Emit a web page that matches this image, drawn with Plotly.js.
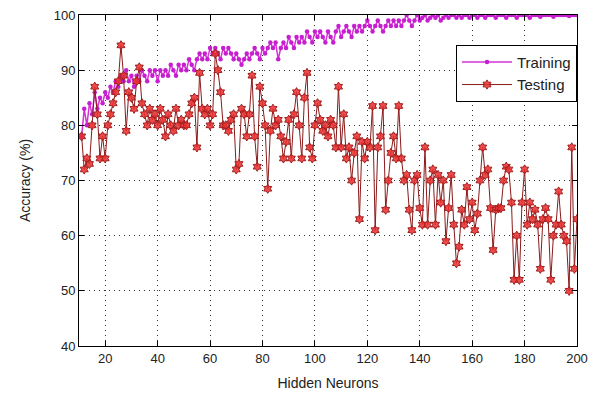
<!DOCTYPE html>
<html>
<head>
<meta charset="utf-8">
<script src="https://cdn.plot.ly/plotly-3.0.1.min.js"></script>
<style>html,body{margin:0;padding:0;background:#fff;}#chart{width:603px;height:401px;}</style>
</head>
<body>
<div id="chart"></div>
<script>
// Hidden neurons 11..200
const neurons = [];
for (let n = 11; n <= 200; n++) neurons.push(n);

const training = [
  78, 83, 80, 84, 82, 86, 83, 85, 84, 86,
  85, 87, 86, 88, 87, 89, 88, 90, 88, 89,
  87, 89, 88, 90, 89, 88, 90, 89, 90, 88,
  90, 89, 90, 89, 91, 90, 89, 91, 90, 91,
  90, 92, 91, 90, 92, 93, 92, 93, 92, 94,
  93, 94, 93, 92, 94, 93, 94, 93, 92, 93,
  92, 91, 92, 93, 92, 93, 94, 93, 92, 94,
  93, 94, 95, 94, 95, 92, 94, 95, 94, 96,
  95, 94, 96, 95, 96, 95, 97, 96, 95, 97,
  96, 97, 96, 95, 97, 96, 95, 97, 98, 96,
  97, 98, 97, 96, 98, 97, 98, 97, 98, 99,
  98, 97, 98, 99, 98, 97, 98, 99, 98, 99,
  98, 99, 98, 99, 100, 99, 98, 99, 100, 99,
  99.5, 100, 99, 99.5, 100, 99.5, 100, 99, 99.5, 100,
  99.5, 100, 100, 99.5, 100, 99.5, 100, 100, 99.5, 100,
  100, 99.5, 100, 100, 99.5, 100, 100, 100, 99.5, 100,
  100, 100, 99.5, 100, 100, 100, 99.5, 100, 100, 100,
  100, 99.5, 100, 100, 100, 99.7, 100, 100, 100, 100,
  99.7, 100, 100, 100, 100, 100, 99.8, 100, 100, 100
];

const testing = [
  78, 72, 74, 73, 80, 87, 82, 74, 78, 74,
  80, 82, 84, 86, 88, 94.5, 89, 79, 86, 85,
  83, 88, 90.5, 84, 82, 80, 83, 81, 82, 80,
  83, 81, 78, 82, 80, 79, 83, 80, 81, 80,
  80, 82, 84, 85, 76, 89.5, 83, 82, 83, 80,
  82, 93, 90, 86, 80, 80, 79, 81, 82, 72,
  73, 83, 82, 78, 82, 89, 78, 72.5, 87, 84,
  80, 68.5, 79, 83, 80, 81, 78, 74, 77, 81,
  74, 82, 86, 80, 74, 85, 89.5, 76, 74, 80,
  84, 81, 79, 80, 78, 81, 80, 76, 87, 76,
  82, 74, 76, 70, 75, 78, 63, 77, 74, 77,
  76, 83.5, 61, 76, 78, 83.5, 64.7, 70, 75, 78,
  74, 83.5, 74, 70, 71, 64.7, 61, 70, 71, 65,
  62, 76, 62, 70, 72, 62, 71, 66, 70, 59,
  65, 71, 62, 55, 58, 64.7, 62, 68.8, 63, 66,
  61, 64, 70, 76, 71, 72, 65, 57.4, 64.7, 65,
  65, 70, 72.5, 72, 66, 52, 60, 52, 66, 72,
  62, 66, 63, 64.7, 62, 54, 63, 65, 63, 52,
  60, 62, 68, 62, 60, 59, 50, 76, 54, 63
];

const xTicks = [20, 40, 60, 80, 100, 120, 140, 160, 180, 200];
const yTicks = [40, 50, 60, 70, 80, 90, 100];

const font = 'Liberation Sans, Arial, sans-serif';

const traces = [
  {
    x: neurons, y: training, name: 'Training', type: 'scatter', mode: 'lines+markers',
    line: {color: '#d633d6', width: 1.5},
    marker: {color: '#c61fcf', size: 4.5, symbol: 'circle'}
  },
  {
    x: neurons, y: testing, name: 'Testing', type: 'scatter', mode: 'lines+markers',
    line: {color: '#8b1a1a', width: 1},
    marker: {color: 'rgba(235,45,45,0.85)', size: 7, symbol: 'hexagram', line: {color: '#a01e1e', width: 1}}
  }
];

const axisCommon = {
  showline: true, linecolor: '#000', linewidth: 1, mirror: 'ticks',
  ticks: 'inside', ticklen: 5, tickcolor: '#000',
  showgrid: true, gridcolor: '#333', griddash: '1px,4px', gridwidth: 1,
  zeroline: false,
  tickfont: {family: font, size: 13, color: '#222'}
};

const layout = {
  width: 603, height: 401,
  margin: {l: 79, r: 26, t: 15, b: 55},
  paper_bgcolor: '#fff', plot_bgcolor: '#fff',
  showlegend: true,
  legend: {
    x: 1, xanchor: 'right', y: 0.91, yanchor: 'top',
    bgcolor: '#fff', bordercolor: '#000', borderwidth: 1,
    font: {family: font, size: 15, color: '#222'},
    itemwidth: 50, tracegroupgap: 0
  },
  xaxis: Object.assign({}, axisCommon, {
    range: [10, 200], tickvals: xTicks,
    title: {text: 'Hidden Neurons', font: {family: font, size: 14, color: '#222'}, standoff: 13}
  }),
  yaxis: Object.assign({}, axisCommon, {
    range: [40, 100], tickvals: yTicks,
    title: {text: 'Accuracy (%)', font: {family: font, size: 14, color: '#222'}, standoff: 19}
  })
};

Plotly.newPlot('chart', traces, layout, {displayModeBar: false, staticPlot: true});
</script>
</body>
</html>
